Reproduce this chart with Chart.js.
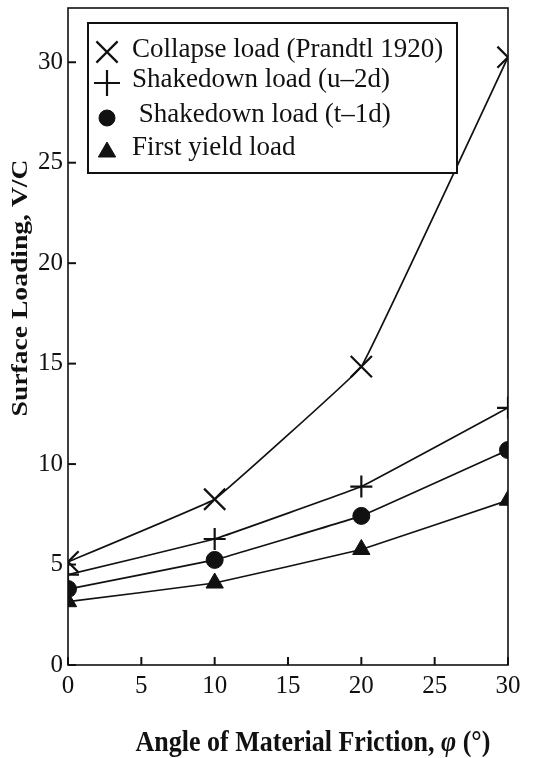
<!DOCTYPE html>
<html><head><meta charset="utf-8">
<script src="https://cdn.jsdelivr.net/npm/chart.js@4/dist/chart.umd.min.js"></script>
<style>html,body{margin:0;padding:0;background:#fff}#wrap{width:542px;height:758px}</style>
</head><body><div id="wrap"><canvas id="c" width="542" height="758"></canvas></div>
<script>
const frictionAngles = [0, 10, 20, 30];
const collapseLoad = [5.13, 8.25, 14.85, 30.25];
const shakedownU2d = [4.5, 6.27, 8.88, 12.8];
const shakedownT1d = [3.78, 5.23, 7.42, 10.7];
const firstYield = [3.15, 4.08, 5.75, 8.2];
const seriesLabels = ['Collapse load (Prandtl 1920)', 'Shakedown load (u\u20132d)', ' Shakedown load (t\u20131d)', 'First yield load'];
const xTicks = [0, 5, 10, 15, 20, 25, 30];
const yTicks = [0, 5, 10, 15, 20, 25, 30];
const xTitle = ['Angle of Material Friction, ', '\u03C6', ' (\u00B0)'];
const yTitle = 'Surface Loading, V/C';

const serif = "'Liberation Serif', 'DejaVu Serif', serif";
function pts(vals){ return frictionAngles.map((x,i)=>({x:x,y:vals[i]})); }
const styles = [
  {pointStyle:'crossRot', radius:15, bw:2.2, legendR:15},
  {pointStyle:'cross', radius:11, bw:2.2, legendR:13},
  {pointStyle:'circle', radius:8.5, bw:1, legendR:8},
  {pointStyle:'triangle', radius:10, bw:1, legendR:10}
];
const allVals = [collapseLoad, shakedownU2d, shakedownT1d, firstYield];
const datasets = allVals.map((v,i)=>({
  label: seriesLabels[i], data: pts(v),
  borderColor:'#111', backgroundColor:'#111', borderWidth:1.7,
  pointStyle: styles[i].pointStyle, pointRadius: styles[i].radius,
  pointBorderWidth: styles[i].bw, pointBorderColor:'#111', pointBackgroundColor:'#111',
  tension: 0.05, fill:false, clip:{left:0, right:0, top:false, bottom:0}
}));

const framePlugin = {
  id:'frame',
  afterDraw(chart){
    const ctx = chart.ctx, a = chart.chartArea;
    ctx.save();
    ctx.strokeStyle='#111'; ctx.lineWidth=1.6;
    ctx.strokeRect(a.left, a.top, a.right-a.left, a.bottom-a.top);
    // inward ticks
    const xs = chart.scales.x, ys = chart.scales.y;
    ctx.lineWidth=2;
    xTicks.forEach(t=>{ const px = xs.getPixelForValue(t); ctx.beginPath(); ctx.moveTo(px,a.bottom); ctx.lineTo(px,a.bottom-8); ctx.stroke(); });
    yTicks.forEach(t=>{ const py = ys.getPixelForValue(t); ctx.beginPath(); ctx.moveTo(a.left,py); ctx.lineTo(a.left+8,py); ctx.stroke(); });
    // legend box
    const bx = a.left+20, by = a.top+15, bw = 369, bh = 150;
    ctx.fillStyle='#fff'; ctx.fillRect(bx,by,bw,bh);
    ctx.lineWidth=2; ctx.strokeRect(bx,by,bw,bh);
    ctx.font = "27px " + serif; ctx.textBaseline='middle'; ctx.textAlign='left';
    const markY = [29, 60, 95, 129];
    const textY = [27, 57, 92, 125];
    chart.data.datasets.forEach((ds,i)=>{
      ctx.fillStyle='#111'; ctx.strokeStyle='#111'; ctx.lineWidth = ds.pointBorderWidth;
      Chart.helpers.drawPoint(ctx, {pointStyle: ds.pointStyle, radius: styles[i].legendR, rotation:0, borderWidth: ds.pointBorderWidth}, bx+19, by+markY[i]);
      ctx.fillStyle='#111';
      ctx.fillText(ds.label, bx+44, by+textY[i]);
    });
    // y title
    ctx.save();
    ctx.translate(21, 288);
    ctx.rotate(-Math.PI/2);
    ctx.scale(1.2, 1);
    ctx.font = "bold 23px " + serif; ctx.textAlign='center'; ctx.textBaseline='middle';
    ctx.fillStyle='#111';
    ctx.fillText(yTitle, 0, 0);
    ctx.restore();
    // x title
    ctx.save();
    ctx.translate(313, 751);
    ctx.scale(1, 1.15);
    const fonts = ["bold 26px " + serif, "bold italic 26px " + serif, "bold 26px " + serif];
    let total = 0;
    const widths = xTitle.map((t,i)=>{ ctx.font = fonts[i]; const w = ctx.measureText(t).width; total += w; return w; });
    let x = -total/2;
    ctx.textAlign='left'; ctx.textBaseline='alphabetic'; ctx.fillStyle='#111';
    xTitle.forEach((t,i)=>{ ctx.font = fonts[i]; ctx.fillText(t, x, 0); x += widths[i]; });
    ctx.restore();
    ctx.restore();
  }
};

new Chart(document.getElementById('c'), {
  type:'line',
  data:{datasets},
  plugins:[framePlugin],
  options:{
    responsive:false, animation:false,
    layout:{autoPadding:false, padding:{top:8, right:34, left:0, bottom:0}},
    plugins:{legend:{display:false}, tooltip:{enabled:false}},
    scales:{
      x:{type:'linear', min:0, max:30,
        afterFit(s){ s.height = 93; s.paddingLeft = 0; s.paddingRight = 0; },
        afterBuildTicks(s){ s.ticks = xTicks.map(v=>({value:v})); },
        grid:{display:false, drawTicks:false}, border:{display:false},
        ticks:{color:'#111', font:{family:serif, size:25}, padding:6, maxRotation:0},
        title:{display:false, text:xTitle.join('')}
      },
      y:{type:'linear', min:0, max:32.7,
        afterFit(s){ s.width = 68; s.paddingTop = 0; s.paddingBottom = 0; },
        afterBuildTicks(s){ s.ticks = yTicks.map(v=>({value:v})); },
        grid:{display:false, drawTicks:false}, border:{display:false},
        ticks:{color:'#111', font:{family:serif, size:25}, padding:5},
        title:{display:false, text:yTitle}
      }
    }
  }
});
</script></body></html>
